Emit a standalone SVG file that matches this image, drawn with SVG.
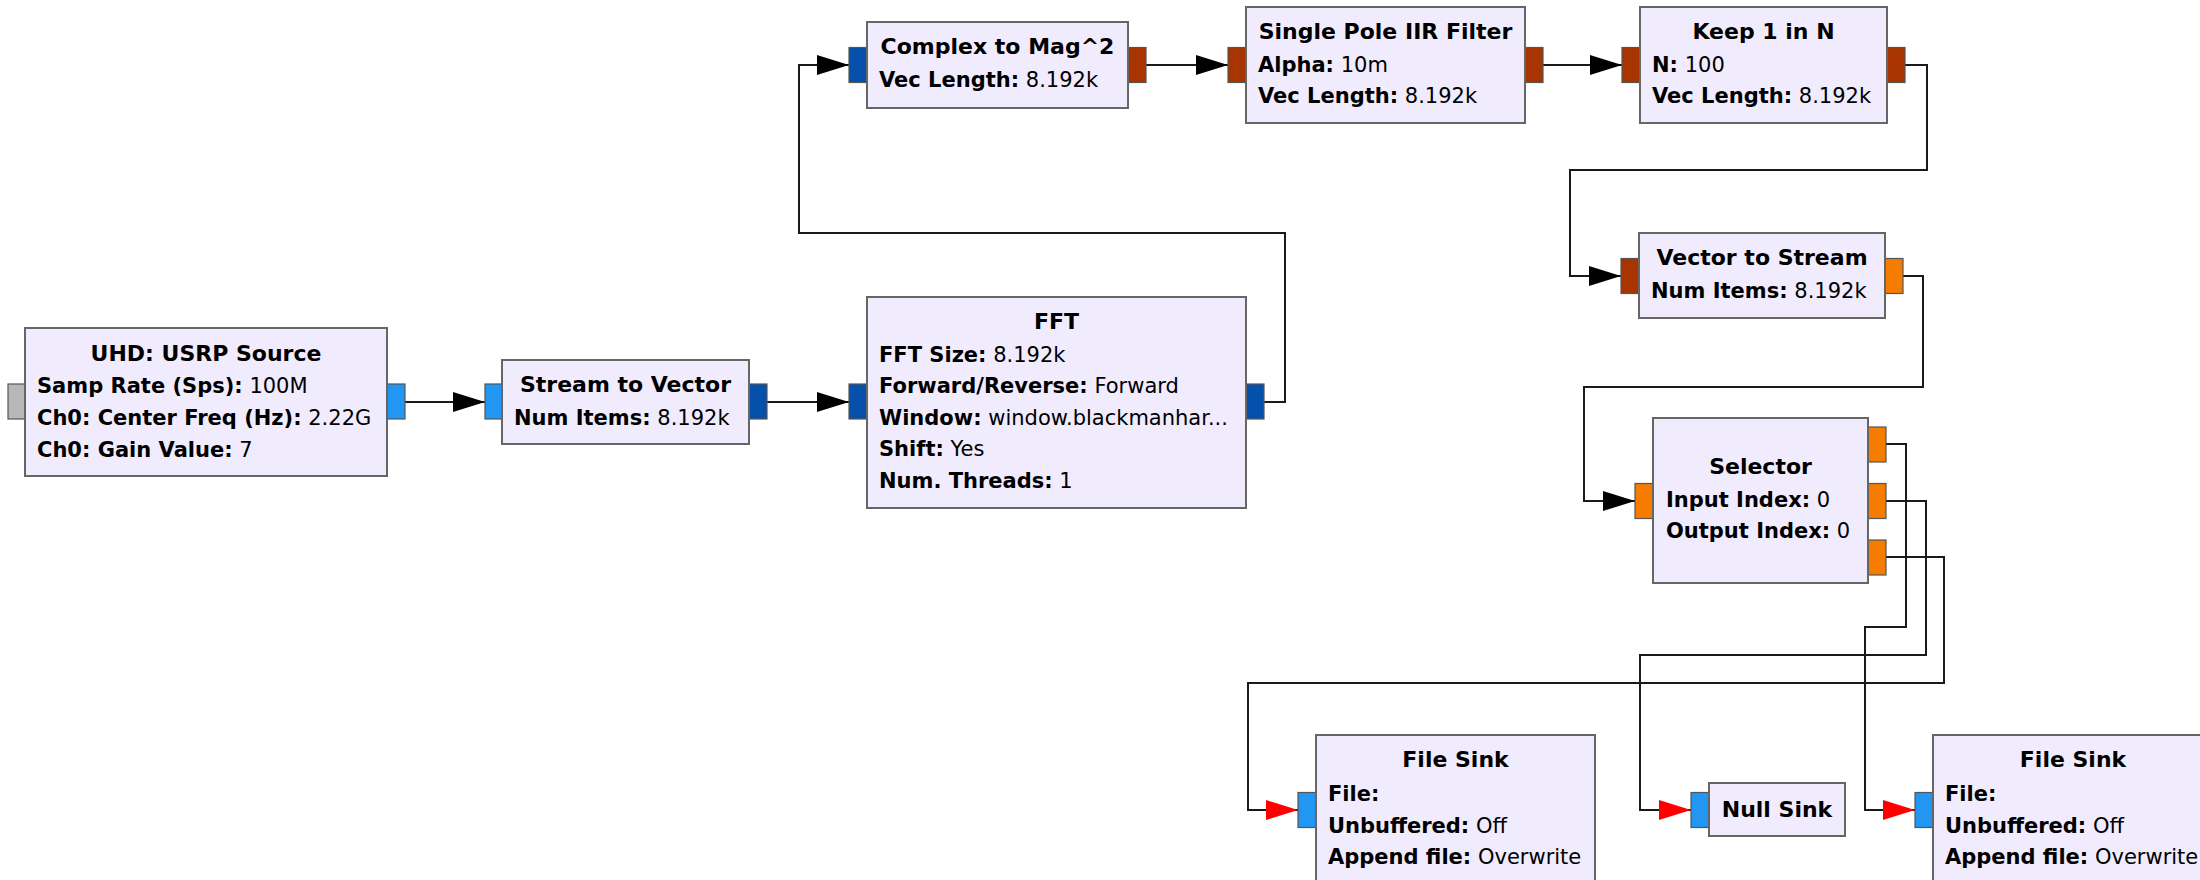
<svg xmlns="http://www.w3.org/2000/svg" width="2200" height="880" viewBox="0 0 2200 880">
<style>
.blk{fill:#f0ecfe;stroke:#666;stroke-width:2}
.pt{stroke:#555;stroke-width:1.2}
.gray{fill:#b8b8b8}.lb{fill:#2196f3}.db{fill:#0550aa}.rust{fill:#a83500}.org{fill:#f57c00}
.t{font-family:"DejaVu Sans",sans-serif;font-size:22px;font-weight:bold;text-anchor:middle;fill:#000}
.p{font-family:"DejaVu Sans",sans-serif;font-size:21px;fill:#000}
.p tspan.k{font-weight:bold}
.c{fill:none;stroke:#1a1a1a;stroke-width:2}
.ce{fill:none;stroke:#1a1a1a;stroke-width:2}
</style>
<defs>
<marker id="ah" markerUnits="userSpaceOnUse" markerWidth="32" markerHeight="20" refX="32" refY="10" orient="auto"><path d="M0,0 L32,10 L0,20 z" fill="#000"/></marker>
<marker id="ahr" markerUnits="userSpaceOnUse" markerWidth="32" markerHeight="20" refX="32" refY="10" orient="auto"><path d="M0,0 L32,10 L0,20 z" fill="#ff0000"/></marker>
</defs>
<rect width="2200" height="880" fill="#fff"/>
<g id="connectors">
<path class="c" marker-end="url(#ah)" d="M405,402 H485"/>
<path class="c" marker-end="url(#ah)" d="M767,402 H849"/>
<path class="c" marker-end="url(#ah)" d="M1264,402 H1285 V233 H799 V65 H849"/>
<path class="c" marker-end="url(#ah)" d="M1146,65 H1228"/>
<path class="c" marker-end="url(#ah)" d="M1543,65 H1622"/>
<path class="c" marker-end="url(#ah)" d="M1905,65 H1927 V170 H1570 V276 H1621"/>
<path class="c" marker-end="url(#ah)" d="M1903,276 H1923 V387 H1584 V501 H1635"/>
<path class="ce" marker-end="url(#ahr)" d="M1886,444 H1906 V627 H1865 V810 H1915"/>
<path class="ce" marker-end="url(#ahr)" d="M1886,501 H1926 V655 H1640 V810 H1691"/>
<path class="ce" marker-end="url(#ahr)" d="M1886,557 H1944 V683 H1248 V810 H1298"/>
</g>
<g id="uhd_usrp_source">
<rect class="pt gray" x="8" y="384" width="17" height="35"/>
<rect class="pt lb" x="387" y="384" width="18" height="35"/>
<rect class="blk" x="25" y="328" width="362" height="148"/>
<text class="t" x="206" y="361">UHD: USRP Source</text>
<text class="p" x="37" y="393"><tspan class="k">Samp Rate (Sps):</tspan> 100M</text>
<text class="p" x="37" y="425"><tspan class="k">Ch0: Center Freq (Hz):</tspan> 2.22G</text>
<text class="p" x="37" y="457"><tspan class="k">Ch0: Gain Value:</tspan> 7</text>
</g>
<g id="stream_to_vector">
<rect class="pt lb" x="485" y="384" width="17" height="35"/>
<rect class="pt db" x="749" y="384" width="18" height="35"/>
<rect class="blk" x="502" y="360" width="247" height="84"/>
<text class="t" x="625.5" y="392">Stream to Vector</text>
<text class="p" x="514" y="425"><tspan class="k">Num Items:</tspan> 8.192k</text>
</g>
<g id="fft">
<rect class="pt db" x="849" y="384" width="18" height="35"/>
<rect class="pt db" x="1246" y="384" width="18" height="35"/>
<rect class="blk" x="867" y="297" width="379" height="211"/>
<text class="t" x="1056.5" y="329">FFT</text>
<text class="p" x="879" y="362"><tspan class="k">FFT Size:</tspan> 8.192k</text>
<text class="p" x="879" y="393"><tspan class="k">Forward/Reverse:</tspan> Forward</text>
<text class="p" x="879" y="425"><tspan class="k">Window:</tspan> window.blackmanhar...</text>
<text class="p" x="879" y="456"><tspan class="k">Shift:</tspan> Yes</text>
<text class="p" x="879" y="488"><tspan class="k">Num. Threads:</tspan> 1</text>
</g>
<g id="complex_to_mag_squared">
<rect class="pt db" x="849" y="47.5" width="18" height="35"/>
<rect class="pt rust" x="1128" y="47.5" width="18" height="35"/>
<rect class="blk" x="867" y="22" width="261" height="86"/>
<text class="t" x="997.5" y="54">Complex to Mag^2</text>
<text class="p" x="879" y="87"><tspan class="k">Vec Length:</tspan> 8.192k</text>
</g>
<g id="single_pole_iir_filter">
<rect class="pt rust" x="1228" y="47.5" width="18" height="35"/>
<rect class="pt rust" x="1525" y="47.5" width="18" height="35"/>
<rect class="blk" x="1246" y="7" width="279" height="116"/>
<text class="t" x="1385.5" y="39">Single Pole IIR Filter</text>
<text class="p" x="1258" y="72"><tspan class="k">Alpha:</tspan> 10m</text>
<text class="p" x="1258" y="103"><tspan class="k">Vec Length:</tspan> 8.192k</text>
</g>
<g id="keep_1_in_n">
<rect class="pt rust" x="1622" y="47.5" width="18" height="35"/>
<rect class="pt rust" x="1887" y="47.5" width="18" height="35"/>
<rect class="blk" x="1640" y="7" width="247" height="116"/>
<text class="t" x="1763.5" y="39">Keep 1 in N</text>
<text class="p" x="1652" y="72"><tspan class="k">N:</tspan> 100</text>
<text class="p" x="1652" y="103"><tspan class="k">Vec Length:</tspan> 8.192k</text>
</g>
<g id="vector_to_stream">
<rect class="pt rust" x="1621" y="258.5" width="18" height="35"/>
<rect class="pt org" x="1885" y="258.5" width="18" height="35"/>
<rect class="blk" x="1639" y="233" width="246" height="85"/>
<text class="t" x="1762" y="265">Vector to Stream</text>
<text class="p" x="1651" y="298"><tspan class="k">Num Items:</tspan> 8.192k</text>
</g>
<g id="selector">
<rect class="pt org" x="1635" y="483.5" width="18" height="35"/>
<rect class="pt org" x="1868" y="427" width="18" height="35"/>
<rect class="pt org" x="1868" y="483.5" width="18" height="35"/>
<rect class="pt org" x="1868" y="540" width="18" height="35"/>
<rect class="blk" x="1653" y="418" width="215" height="165"/>
<text class="t" x="1760.5" y="474">Selector</text>
<text class="p" x="1666" y="507"><tspan class="k">Input Index:</tspan> 0</text>
<text class="p" x="1666" y="538"><tspan class="k">Output Index:</tspan> 0</text>
</g>
<g id="file_sink_0">
<rect class="pt lb" x="1298" y="792.5" width="18" height="35"/>
<rect class="blk" x="1316" y="735" width="279" height="150"/>
<text class="t" x="1455.5" y="767">File Sink</text>
<text class="p" x="1328" y="801"><tspan class="k">File:</tspan></text>
<text class="p" x="1328" y="833"><tspan class="k">Unbuffered:</tspan> Off</text>
<text class="p" x="1328" y="864"><tspan class="k">Append file:</tspan> Overwrite</text>
</g>
<g id="null_sink">
<rect class="pt lb" x="1691" y="792.5" width="18" height="35"/>
<rect class="blk" x="1709" y="783" width="136" height="53"/>
<text class="t" x="1777" y="817">Null Sink</text>
</g>
<g id="file_sink_1">
<rect class="pt lb" x="1915" y="792.5" width="18" height="35"/>
<rect class="blk" x="1933" y="735" width="280" height="150"/>
<text class="t" x="2073" y="767">File Sink</text>
<text class="p" x="1945" y="801"><tspan class="k">File:</tspan></text>
<text class="p" x="1945" y="833"><tspan class="k">Unbuffered:</tspan> Off</text>
<text class="p" x="1945" y="864"><tspan class="k">Append file:</tspan> Overwrite</text>
</g>
</svg>
